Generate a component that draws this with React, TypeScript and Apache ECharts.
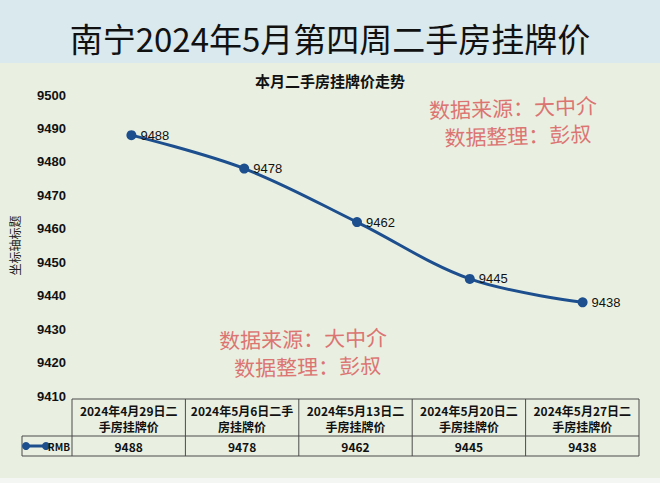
import React, { useEffect, useRef } from "react";
import * as echarts from "echarts";

const mainTitle = "南宁2024年5月第四周二手房挂牌价";
const chartTitle = "本月二手房挂牌价走势";
const yAxisName = "坐标轴标题";
const seriesName = "RMB";
const categoriesLine1 = ["2024年4月29日二", "2024年5月6日二手", "2024年5月13日二", "2024年5月20日二", "2024年5月27日二"];
const categoriesLine2 = ["手房挂牌价", "房挂牌价", "手房挂牌价", "手房挂牌价", "手房挂牌价"];
const values = [9488, 9478, 9462, 9445, 9438];
const watermarkLines = ["数据来源：大中介", "数据整理：彭叔"];

const W = 660;
const H = 483;
const GRID_LEFT = 72;
const GRID_RIGHT = 639;
const GRID_TOP = 95;
const GRID_BOTTOM = 396;
const FONT = "'Noto Sans CJK SC', 'Liberation Sans', Arial, sans-serif";
const NUMFONT = "'Liberation Sans', Arial, sans-serif";

export default function App() {
  const ref = useRef<HTMLDivElement>(null);
  useEffect(() => {
    document.body.style.margin = "0";
    const chart = echarts.init(ref.current!, null, { renderer: "svg" });
    const n = values.length;
    const colW = (GRID_RIGHT - GRID_LEFT) / n;
    const tTop = 399, tMid = 436, tBot = 456, legL = 22;
    const border = { stroke: "#4a4a4a", lineWidth: 1 };
    const graphics: any[] = [];
    graphics.push({ type: "rect", z: -10, shape: { x: 0, y: 0, width: W, height: H }, style: { fill: "#e9f0e2" } });
    graphics.push({ type: "rect", z: -9, shape: { x: 0, y: 0, width: W, height: 63 }, style: { fill: "#d9e9ee" } });
    graphics.push({ type: "rect", z: -9, shape: { x: 0, y: 478, width: W, height: 5 }, style: { fill: "#f3f6f3" } });
    graphics.push({
      type: "text", x: W / 2, y: 38,
      style: { text: mainTitle, fontSize: 33, fontFamily: "'Noto Sans CJK SC', serif", fill: "#111", align: "center", verticalAlign: "middle" },
    });
    graphics.push({
      type: "text", x: 330, y: 80,
      style: { text: chartTitle, fontSize: 15, fontWeight: "bold", fontFamily: FONT, fill: "#111", align: "center", verticalAlign: "middle" },
    });
    graphics.push({ type: "line", shape: { x1: GRID_LEFT, y1: tTop, x2: GRID_RIGHT, y2: tTop }, style: border });
    graphics.push({ type: "line", shape: { x1: legL, y1: tMid, x2: GRID_RIGHT, y2: tMid }, style: border });
    graphics.push({ type: "line", shape: { x1: legL, y1: tBot, x2: GRID_RIGHT, y2: tBot }, style: border });
    graphics.push({ type: "line", shape: { x1: legL, y1: tMid, x2: legL, y2: tBot }, style: border });
    for (let i = 0; i <= n; i++) {
      const x = GRID_LEFT + colW * i;
      graphics.push({ type: "line", shape: { x1: x, y1: tTop, x2: x, y2: tBot }, style: border });
    }
    for (let i = 0; i < n; i++) {
      const cx = GRID_LEFT + colW * (i + 0.5);
      graphics.push({ type: "text", x: cx, y: 410, style: { text: categoriesLine1[i], fontSize: 12, fontWeight: "bold", fontFamily: FONT, fill: "#111", align: "center", verticalAlign: "middle" } });
      graphics.push({ type: "text", x: cx, y: 426, style: { text: categoriesLine2[i], fontSize: 12, fontWeight: "bold", fontFamily: FONT, fill: "#111", align: "center", verticalAlign: "middle" } });
      graphics.push({ type: "text", x: cx, y: 446, style: { text: String(values[i]), fontSize: 12, fontWeight: "bold", fontFamily: FONT, fill: "#111", align: "center", verticalAlign: "middle" } });
    }
    graphics.push({ type: "line", shape: { x1: 26, y1: 446, x2: 46, y2: 446 }, style: { stroke: "#1d4f8e", lineWidth: 3 } });
    graphics.push({ type: "circle", shape: { cx: 26, cy: 446, r: 4 }, style: { fill: "#1d4f8e" } });
    graphics.push({ type: "circle", shape: { cx: 46, cy: 446, r: 4 }, style: { fill: "#1d4f8e" } });
    graphics.push({ type: "text", x: 70, y: 446, style: { text: seriesName, fontSize: 10, fontWeight: "bold", fontFamily: FONT, fill: "#111", align: "right", verticalAlign: "middle" } });
    const wm = (x: number, y: number, rot: number) => {
      graphics.push({
        type: "group", x, y, rotation: rot,
        children: [
          { type: "text", x: 0, y: 0, style: { text: watermarkLines[0], fontSize: 21, fontFamily: "'Noto Sans CJK SC', serif", fill: "#dc7572", align: "center", verticalAlign: "middle" } },
          { type: "text", x: 4, y: 28, style: { text: watermarkLines[1], fontSize: 21, fontFamily: "'Noto Sans CJK SC', serif", fill: "#dc7572", align: "center", verticalAlign: "middle" } },
        ],
      });
    };
    wm(513, 107, 0.03);
    wm(303, 338, 0.02);

    chart.setOption({
      animation: false,
      textStyle: { fontFamily: FONT },
      grid: { left: GRID_LEFT, right: W - GRID_RIGHT, top: GRID_TOP, bottom: H - GRID_BOTTOM, containLabel: false },
      xAxis: {
        type: "category",
        data: categoriesLine1.map((c, i) => c + categoriesLine2[i]),
        boundaryGap: true,
        axisLine: { show: false },
        axisTick: { show: false },
        axisLabel: { show: false },
      },
      yAxis: {
        type: "value",
        min: 9410,
        max: 9500,
        interval: 10,
        name: yAxisName,
        nameLocation: "middle",
        nameGap: 55,
        nameTextStyle: { fontSize: 12, color: "#222", fontFamily: FONT },
        axisLine: { show: false },
        axisTick: { show: false },
        splitLine: { show: false },
        axisLabel: { fontSize: 13, fontWeight: "bold", color: "#111", margin: 9, fontFamily: NUMFONT, formatter: (v: number) => String(v) },
      },
      series: [
        {
          name: seriesName,
          type: "line",
          data: values,
          smooth: 0.35,
          symbol: "circle",
          symbolSize: 10,
          lineStyle: { color: "#1d4f8e", width: 3 },
          itemStyle: { color: "#1d4f8e" },
          label: { show: true, position: "right", distance: 4, fontSize: 13, color: "#111", fontFamily: NUMFONT },
        },
      ],
      graphic: graphics,
    });
    return () => chart.dispose();
  }, []);
  return <div ref={ref} style={{ width: W, height: H }} />;
}
